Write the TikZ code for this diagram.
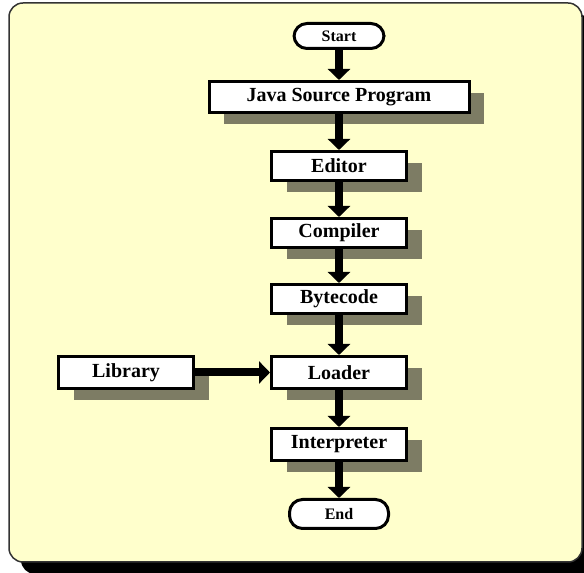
\documentclass[tikz,border=0pt]{standalone}
\usepackage{fontspec}
\setmainfont{Liberation Serif}
\usetikzlibrary{positioning, arrows.meta, shadows}
\definecolor{frameYellow}{HTML}{FFFFCC}
\definecolor{shadowOlive}{HTML}{7D7C64}
\tikzstyle{stepbox} =[draw, fill=white, line width=3pt, inner sep=0pt, minimum width=135pt, minimum height=29pt, font=\fontsize{20}{22}\selectfont\bfseries, drop shadow={shadow xshift=15pt, shadow yshift=-12pt, fill=shadowOlive, opacity=1}]
\tikzstyle{terminal} =[draw, fill=white, line width=3pt, inner sep=0pt, rounded corners=13pt, minimum width=90pt, minimum height=25pt, font=\fontsize{16}{18}\selectfont\bfseries]
\tikzstyle{flow} =[-{Triangle[width=22pt, length=11pt]}, line width=8pt, black]

\begin{document}
\begin{tikzpicture}[x=1pt, y=1pt]
\useasboundingbox (0,0) rectangle (584,573);

%frame
\fill[black, rounded corners=14pt] (21,-1) rectangle (594,558);
\draw[fill=frameYellow, draw=black!80, line width=1.5pt, rounded corners=14pt] (9,570) rectangle (582,11);

\node (start) [terminal] at (339,537) {Start};
\node (java) [stepbox, minimum width=260pt, minimum height=31pt, below=30pt of start] {Java Source Program};
\node (editor) [stepbox, below=36pt of java] {Editor};
\node (compiler) [stepbox, below=35pt of editor] {Compiler};
\node (bytecode) [stepbox, below=34pt of compiler] {Bytecode};
\node (loader) [stepbox, minimum height=32pt, below=40pt of bytecode] {Loader};
\node (library) [stepbox, minimum height=32pt, left=75pt of loader] {Library};
\node (interpreter) [stepbox, minimum height=32pt, below=37pt of loader] {Interpreter};
\node (end) [terminal, minimum width=99pt, minimum height=29pt, below=36pt of interpreter] {End};

\draw[flow]
	(start) edge (java);

\draw[flow]
	(java) edge (editor);

\draw[flow]
	(editor) edge (compiler);

\draw[flow]
	(compiler) edge (bytecode);

\draw[flow]
	(bytecode) edge (loader);

\draw[flow]
	(library) edge (loader);

\draw[flow]
	(loader) edge (interpreter);

\draw[flow]
	(interpreter) edge (end);
\end{tikzpicture}
\end{document}
